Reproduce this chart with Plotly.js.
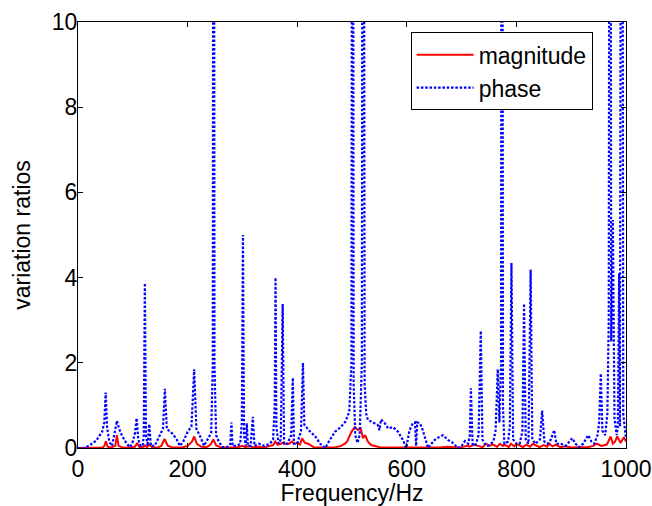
<!DOCTYPE html>
<html>
<head>
<meta charset="utf-8">
<script src="https://cdn.plot.ly/plotly-3.0.1.min.js"></script>
<style>
html,body{margin:0;padding:0;background:#fff;}
#chart{width:652px;height:506px;}
</style>
</head>
<body>
<div id="chart"></div>
<script>
// Frequency (Hz) and value key points
var phaseFreq = [0,10,20,33,44,48,50.5,53,57,62,66,71,75,81,89,95,100,104,107,110,114,118,120,122,124,127,130,133,140,148,155,158.5,162,168,173,180,186,192,200,207,212,216,222,230,236,243,246,247.5,249,252,257,264,272,278,280,282,290,296,299,301,303,306,308,310,315,319,322,330,340,350,356,359,360.5,362,366,370,373.5,376,382,389,392,394,400,407,410.5,413,421,427,433,442,451,460,469,480,488,495,499,501,503,506,510,514,518,520.5,523,526,529,538,547,550,553,560,566,575,584,593,599,605,611,615,617,619,624,628,634,639,645,651,658,666,675,684,693,700,706,712,715,717,718.5,720,725,731,735,738,742,748,753,758,762,766,769,772,773.5,775.5,778,785,788,791,794,800,806,811,814,817,822,826,829,835,843,847,851,857,863,866,869,873,881,890,896,902,908,914,922,931,937,942,948,951,954,957,962,966,968.5,971,973,976,979,983,985,987.5,989,992,995,1000];
var phaseVal = [0,0,0.05,0.17,0.38,0.6,1.3,0.5,0.15,0.05,0.3,0.64,0.45,0.27,0.1,0.02,0.15,0.35,0.7,0.2,0.05,0.05,0.3,3.87,0.3,0.05,0.56,0.05,0.05,0.25,0.45,1.39,0.45,0.38,0.33,0.2,0.05,0.15,0.38,0.5,1.85,0.45,0.3,0.05,0.2,0.35,2,30,2,0.3,0.15,0.02,0.02,0.1,0.6,0.05,0.05,0.1,0.6,5.0,0.3,0.05,0.58,0.05,0.05,0.73,0.05,0.1,0.05,0.1,0.2,1.0,4.0,0.5,0.1,0.2,3.38,0.1,0.1,0.3,1.65,0.1,0.1,0.4,2.0,0.55,0.42,0.35,0.27,0.1,0.0,0.2,0.38,0.5,0.62,0.85,2.0,30,1.5,0.3,0.12,0.3,2,30,1.5,0.8,0.66,0.6,0.54,0.42,0.67,0.58,0.46,0.49,0.38,0.19,0.0,0.42,0.58,0.6,0.05,0.6,0.58,0.46,0.23,0.0,0.1,0.19,0.25,0.3,0.19,0.12,0.0,0.05,0.16,0.1,0.3,1.4,0.75,0.1,0.05,0.3,2.75,0.2,0.1,0.05,0.1,0.15,0.4,1.85,0.6,2,30,1,0.1,0.15,0.5,4.34,0.2,0.1,0.1,0.4,3.39,0.2,0.1,4.19,0.2,0.1,0.2,0.88,0.15,0.1,0.2,0.3,0.42,0.1,0.1,0.05,0.15,0.23,0.1,0.02,0.1,0.3,0.15,0.1,0.3,0.6,1.75,0.4,0.3,0.8,3,30,2.5,5.35,0.7,0.3,0.5,4.1,0.5,30,0.8,0.2];

var magFreq = [0,45,48,51,54,60,68,71,74,80,95,104,108,112,120,122,126,130,135,145,152,158,164,172,190,200,208,212,217,225,235,242,247,252,260,280,290,300,305,312,320,330,340,350,356,360,364,370,373,378,385,390,395,400,405,409,414,420,430,445,470,480,487,491,495,499,505,508,511,516,520,524,529,535,541,550,580,620,650,660,675,690,700,710,715,722,730,738,745,750,757,765,770,775,780,786,790,796,800,806,812,818,825,830,836,842,850,856,860,866,872,880,890,900,917,930,940,947,955,965,972,976,980,984,990,993,996,1000];
var magVal = [0,0.01,0.05,0.16,0.03,0.01,0.05,0.3,0.05,0.02,0.01,0.03,0.12,0.02,0.03,0.06,0.02,0.08,0.02,0.01,0.05,0.21,0.05,0.02,0.01,0.05,0.15,0.27,0.1,0.03,0.02,0.08,0.2,0.06,0.02,0.02,0.01,0.05,0.02,0.04,0.02,0.03,0.01,0.05,0.07,0.15,0.08,0.1,0.12,0.1,0.1,0.15,0.1,0.12,0.08,0.23,0.12,0.1,0.02,0.01,0.02,0.05,0.1,0.15,0.25,0.38,0.49,0.45,0.42,0.46,0.23,0.3,0.15,0.07,0.05,0.02,0.01,0.01,0.02,0.01,0.03,0.01,0.02,0.05,0.03,0.08,0.05,0.02,0.1,0.05,0.08,0.03,0.1,0.05,0.07,0.02,0.1,0.04,0.1,0.05,0.02,0.08,0.03,0.1,0.05,0.02,0.07,0.03,0.1,0.04,0.08,0.02,0.04,0.01,0.02,0.02,0.05,0.1,0.05,0.08,0.27,0.1,0.15,0.27,0.12,0.2,0.25,0.15];

var xTicks = [0,200,400,600,800,1000];
var yTicks = [0,2,4,6,8,10];
var seriesNames = ['magnitude','phase'];

var font = 'Liberation Sans, Arial, sans-serif';

var traces = [
  {x: magFreq, y: magVal, name: seriesNames[0], type: 'scatter', mode: 'lines',
   line: {color: '#ff0000', width: 2}},
  {x: phaseFreq, y: phaseVal, name: seriesNames[1], type: 'scatter', mode: 'lines',
   line: {color: '#0000ff', width: 2.2, dash: '2.5px,1.8px'}}
];

var layout = {
  width: 652, height: 506,
  margin: {l: 78, r: 26, t: 22, b: 58},
  paper_bgcolor: '#fff', plot_bgcolor: '#fff',
  font: {family: font, size: 23, color: '#000'},
  showlegend: true,
  legend: {x: 0.607, y: 0.976, xanchor: 'left', yanchor: 'top',
           bordercolor: '#000', borderwidth: 1, bgcolor: '#fff',
           itemwidth: 57, tracegroupgap: 0,
           font: {family: font, size: 23, color: '#000'}},
  xaxis: {range: [0, 1000], tickvals: xTicks, ticktext: xTicks.map(String),
          ticks: 'inside', ticklen: 5, tickcolor: '#000', tickwidth: 1,
          showline: true, linecolor: '#000', linewidth: 1, mirror: 'ticks',
          showgrid: false, zeroline: false, automargin: false,
          tickfont: {family: font, size: 23, color: '#000'},
          title: {text: 'Frequency/Hz', font: {family: font, size: 23, color: '#000'}, standoff: 2}},
  yaxis: {range: [0, 10], tickvals: yTicks, ticktext: yTicks.map(String),
          ticks: 'inside', ticklen: 5, tickcolor: '#000', tickwidth: 1,
          showline: true, linecolor: '#000', linewidth: 1, mirror: 'ticks',
          showgrid: false, zeroline: false, automargin: false,
          ticklabelstandoff: -5,
          tickfont: {family: font, size: 23, color: '#000'},
          title: {text: 'variation ratios', font: {family: font, size: 23, color: '#000'}, standoff: 14}}
};

Plotly.newPlot('chart', traces, layout, {staticPlot: true, displayModeBar: false});
</script>
</body>
</html>
